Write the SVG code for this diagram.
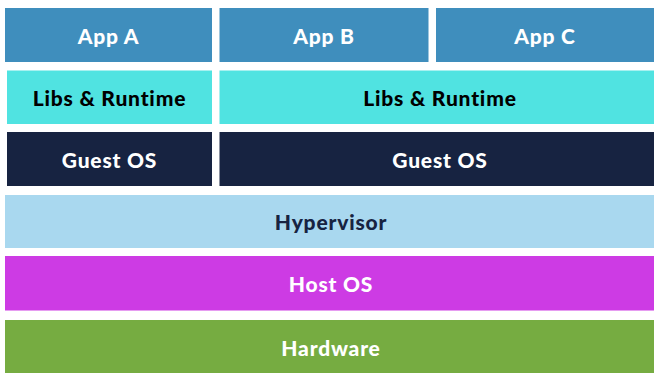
<svg xmlns="http://www.w3.org/2000/svg" width="654" height="373" viewBox="0 0 654 373">
<style>
text{font-family:Lato,"Open Sans","Liberation Sans",sans-serif;font-weight:900;font-size:21px;letter-spacing:0.8px;text-anchor:middle;dominant-baseline:central}
.app{fill:#3f8ebd}
.libs{fill:#50e3e1}
.guest{fill:#172341}
.hyp{fill:#a9d8ef}
.host{fill:#cd3be4}
.hw{fill:#76ac41}
.w{fill:#ffffff}
.k{fill:#000000}
.n{fill:#172341}
</style>
<rect width="654" height="373" fill="#ffffff"/>
<g id="app-a"><rect class="app" x="5" y="8" width="207" height="54"/><text class="w" x="108.5" y="35">App A</text></g>
<g id="app-b"><rect class="app" x="219.5" y="8" width="209" height="54"/><text class="w" x="324" y="35">App B</text></g>
<g id="app-c"><rect class="app" x="436" y="8" width="218" height="54"/><text class="w" x="545" y="35">App C</text></g>
<g id="libs-a"><rect class="libs" x="7" y="70.5" width="205" height="53.5"/><text class="k" x="109.5" y="97">Libs &amp; Runtime</text></g>
<g id="libs-b"><rect class="libs" x="219.5" y="70.5" width="434.5" height="53.5"/><text class="k" x="440" y="97">Libs &amp; Runtime</text></g>
<g id="guest-a"><rect class="guest" x="7" y="132" width="205" height="54"/><text class="w" x="109.5" y="159">Guest OS</text></g>
<g id="guest-b"><rect class="guest" x="219.5" y="132" width="434.5" height="54"/><text class="w" x="440" y="159">Guest OS</text></g>
<g id="hypervisor"><rect class="hyp" x="5" y="195" width="649" height="53"/><text class="n" x="331" y="221.5">Hypervisor</text></g>
<g id="host-os"><rect class="host" x="5" y="256" width="649" height="54.5"/><text class="w" x="331" y="283.5">Host OS</text></g>
<g id="hardware"><rect class="hw" x="5" y="320" width="649" height="53"/><text class="w" x="331" y="347">Hardware</text></g>
<g id="connectors"></g>
</svg>
